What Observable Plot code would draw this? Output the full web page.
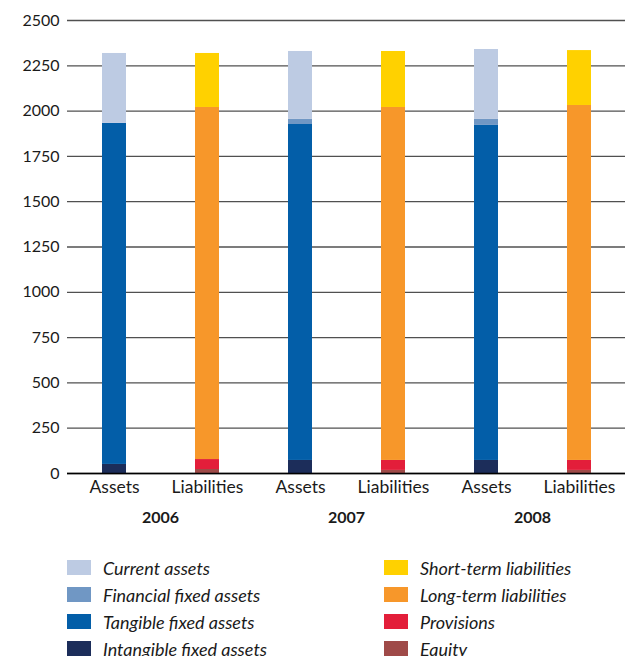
<!DOCTYPE html>
<html>
<head>
<meta charset="utf-8">
<script src="https://cdn.jsdelivr.net/npm/d3@7"></script>
<script src="https://cdn.jsdelivr.net/npm/@observablehq/plot@0.6"></script>
<style>
  html, body { margin: 0; padding: 0; background: #fff; }
  body { width: 635px; font-family: Lato, "Open Sans", sans-serif; color: #1a1a1a; }
  .legend { display: grid; grid-template-columns: 317px 250px; row-gap: 8px; padding-left: 67px; padding-top: 23px; }
  .item { display: flex; align-items: center; height: 19px; font-style: italic; font-size: 18px; }
  .sw { width: 24px; height: 15px; margin-right: 12px; flex: none; }
</style>
</head>
<body>
<div id="chart"></div>
<div id="legend" class="legend"></div>
<script>
const years = [2006, 2007, 2008];
const types = ["Assets", "Liabilities"];
const yTicks = [0, 250, 500, 750, 1000, 1250, 1500, 1750, 2000, 2250, 2500];

// Assets components (bottom to top)
const intangibleFixedAssets = [50, 72, 72];
const tangibleFixedAssets = [1882, 1854, 1849];
const financialFixedAssets = [0, 28, 33];
const currentAssets = [386, 375, 386];

// Liabilities components (bottom to top)
const equity = [22, 17, 17];
const provisions = [55, 55, 55];
const longTermLiabilities = [1943, 1948, 1959];
const shortTermLiabilities = [298, 309, 303];

const categories = ["Intangible fixed assets", "Tangible fixed assets", "Financial fixed assets", "Current assets",
                    "Equity", "Provisions", "Long-term liabilities", "Short-term liabilities"];
const colors = ["#1c2d5a", "#035ea8", "#7097c4", "#bdcbe3", "#9f4a48", "#e31e3a", "#f7972a", "#ffd100"];

const series = [
  ["Assets", "Intangible fixed assets", intangibleFixedAssets],
  ["Assets", "Tangible fixed assets", tangibleFixedAssets],
  ["Assets", "Financial fixed assets", financialFixedAssets],
  ["Assets", "Current assets", currentAssets],
  ["Liabilities", "Equity", equity],
  ["Liabilities", "Provisions", provisions],
  ["Liabilities", "Long-term liabilities", longTermLiabilities],
  ["Liabilities", "Short-term liabilities", shortTermLiabilities]
];

const rows = [];
series.forEach(([type, category, values]) => {
  values.forEach((v, i) => rows.push({year: years[i], type, category, value: v}));
});

const chart = Plot.plot({
  width: 635,
  height: 535,
  marginTop: 20,
  marginLeft: 66,
  marginRight: 9,
  marginBottom: 62,
  style: {fontFamily: "Lato, 'Open Sans', sans-serif", color: "#1a1a1a", background: "#fff"},
  fx: {domain: years, padding: 0, label: null},
  x: {domain: types, paddingInner: 0.743, paddingOuter: 0.3715, label: null},
  y: {domain: [0, 2500], label: null},
  color: {domain: categories, range: colors},
  marks: [
    Plot.gridY(yTicks, {stroke: "#505050", strokeOpacity: 1, strokeWidth: 1.3}),
    Plot.barY(rows, {fx: "year", x: "type", y: "value", fill: "category", z: "category"}),
    Plot.ruleY([0], {stroke: "#000", strokeWidth: 1.6}),
    Plot.axisY(yTicks, {tickSize: 0, tickPadding: 8, fontSize: 16, tickFormat: d3.format("d"), label: null}),
    Plot.axisX({tickSize: 0, tickPadding: 7, fontSize: 17.5, label: null}),
    Plot.axisFx({anchor: "bottom", tickSize: 0, tickPadding: 38, fontSize: 16, fontWeight: "bold", tickFormat: d3.format("d"), label: null})
  ]
});
document.getElementById("chart").appendChild(chart);

const legendOrder = [
  ["Current assets", "Short-term liabilities"],
  ["Financial fixed assets", "Long-term liabilities"],
  ["Tangible fixed assets", "Provisions"],
  ["Intangible fixed assets", "Equity"]
];
const legend = document.getElementById("legend");
legendOrder.flat().forEach(name => {
  const item = document.createElement("div");
  item.className = "item";
  const sw = document.createElement("span");
  sw.className = "sw";
  sw.style.background = colors[categories.indexOf(name)];
  const t = document.createElement("span");
  t.textContent = name;
  item.appendChild(sw);
  item.appendChild(t);
  legend.appendChild(item);
});
</script>
</body>
</html>
